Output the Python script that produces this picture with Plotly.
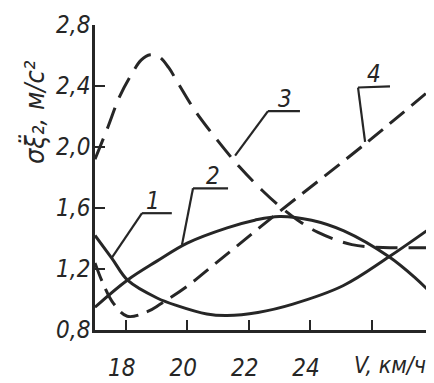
import plotly.graph_objects as go

# ---- data ----
c1_x = [17.0, 17.55, 18.07, 19.02, 19.67, 20.64, 21.3, 22.3, 23.44, 25.07, 26.57, 28.0]
c1_y = [1.42, 1.27, 1.125, 1.01, 0.96, 0.905, 0.895, 0.915, 0.97, 1.09, 1.28, 1.48]

c2_x = [17.0, 18.04, 19.0, 20.0, 21.3, 22.2, 23.0, 24.05, 25.1, 26.57, 27.43, 28.0]
c2_y = [0.95, 1.125, 1.25, 1.37, 1.47, 1.52, 1.545, 1.52, 1.45, 1.28, 1.14, 1.03]

c3_x = [17.0, 17.4, 17.8, 18.2, 18.5, 18.8, 19.1, 19.4, 19.7, 20.25, 21.0, 21.7,
        22.47, 23.02, 23.6, 24.26, 25.36, 26.6, 27.6, 28.0]
c3_y = [1.92, 2.12, 2.33, 2.48, 2.57, 2.605, 2.59, 2.52, 2.42, 2.24, 2.04, 1.87,
        1.71, 1.61, 1.52, 1.44, 1.36, 1.34, 1.34, 1.34]

c4_x = [17.0, 17.25, 17.6, 18.05, 18.7, 19.13, 20.02, 20.7, 22.84, 25.85, 28.0]
c4_y = [1.24, 1.11, 0.975, 0.89, 0.92, 0.97, 1.09, 1.20, 1.55, 2.03, 2.39]

x_ticks = [18, 20, 22, 24, 26, 28]
x_ticktext = ["18", "20", "22", "24", "", ""]
y_ticks = [0.8, 1.2, 1.6, 2.0, 2.4, 2.8]
y_ticktext = ["0,8", "1,2", "1,6", "2,0", "2,4", "2,8"]

curve_labels = ["1", "2", "3", "4"]

INK = "#262626"
BG = "#ffffff"
FONT = "Liberation Sans Narrow, DejaVu Sans Condensed, Arial Narrow, sans-serif"

fig = go.Figure()
series = [
    (c1_x, c1_y, "solid"),
    (c2_x, c2_y, "solid"),
    (c3_x, c3_y, "22px,11px"),
    (c4_x, c4_y, "19px,9px"),
]
for xs, ys, dash in series:
    fig.add_trace(go.Scatter(
        x=xs, y=ys, mode="lines",
        line=dict(color=INK, width=3, dash=dash, shape="spline", smoothing=1.0),
        showlegend=False, hoverinfo="skip",
    ))

# leader lines (data coords): start on curve, knee, end of shelf
leaders = [
    [(17.55, 1.274), (18.53, 1.566), (19.5, 1.566)],
    [(19.83, 1.358), (20.19, 1.729), (21.33, 1.729)],
    [(21.56, 1.943), (22.63, 2.235), (23.67, 2.235)],
    [(25.79, 2.034), (25.56, 2.39), (26.6, 2.397)],
]
label_pos = [(18.9, 1.566), (20.85, 1.729), (23.17, 2.235), (26.07, 2.397)]

for pts in leaders:
    for (xa, ya), (xb, yb) in zip(pts[:-1], pts[1:]):
        fig.add_shape(type="line", x0=xa, y0=ya, x1=xb, y1=yb,
                      xref="x", yref="y", line=dict(color=INK, width=2.2))

for txt, (lx, ly) in zip(curve_labels, label_pos):
    fig.add_annotation(x=lx, y=ly, xref="x", yref="y", text=txt, showarrow=False,
                       xanchor="center", yanchor="bottom", yshift=-4,
                       font=dict(family=FONT, size=24, color=INK, style="italic"))

# axis titles
fig.add_annotation(x=27.85, y=-0.115, xref="x", yref="paper", text="V, км/ч",
                   showarrow=False, xanchor="right", yanchor="middle",
                   font=dict(family=FONT, size=23, color=INK, style="italic"))
fig.add_annotation(x=-0.18, y=0.715, xref="paper", yref="paper",
                   text="σξ\u0308₂, м/с²", textangle=-90,
                   showarrow=False, xanchor="center", yanchor="middle",
                   font=dict(family=FONT, size=27, color=INK, style="italic"))

fig.update_xaxes(range=[17, 28], tickvals=x_ticks, ticktext=x_ticktext,
                 showline=True, linecolor=INK, linewidth=2.5, mirror=False,
                 ticks="inside", ticklen=10, tickwidth=2, tickcolor=INK,
                 showgrid=False, zeroline=False, ticklabelstandoff=14,
                 ticklabelshift=-4,
                 tickfont=dict(family=FONT, size=24, color=INK, style="italic"))
fig.update_yaxes(range=[0.8, 2.8], tickvals=y_ticks, ticktext=y_ticktext,
                 showline=True, linecolor=INK, linewidth=2.5, mirror=False,
                 ticks="inside", ticklen=10, tickwidth=2, tickcolor=INK,
                 showgrid=False, zeroline=False, ticklabelstandoff=-3,
                 tickfont=dict(family=FONT, size=24, color=INK, style="italic"))

# the page body adds an 8px margin, so the figure is sized to fit the window
fig.update_layout(
    width=426, height=375,
    margin=dict(l=87, r=1, t=17, b=50),
    paper_bgcolor=BG, plot_bgcolor=BG,
    showlegend=False,
)

fig.write_html("out.html")
